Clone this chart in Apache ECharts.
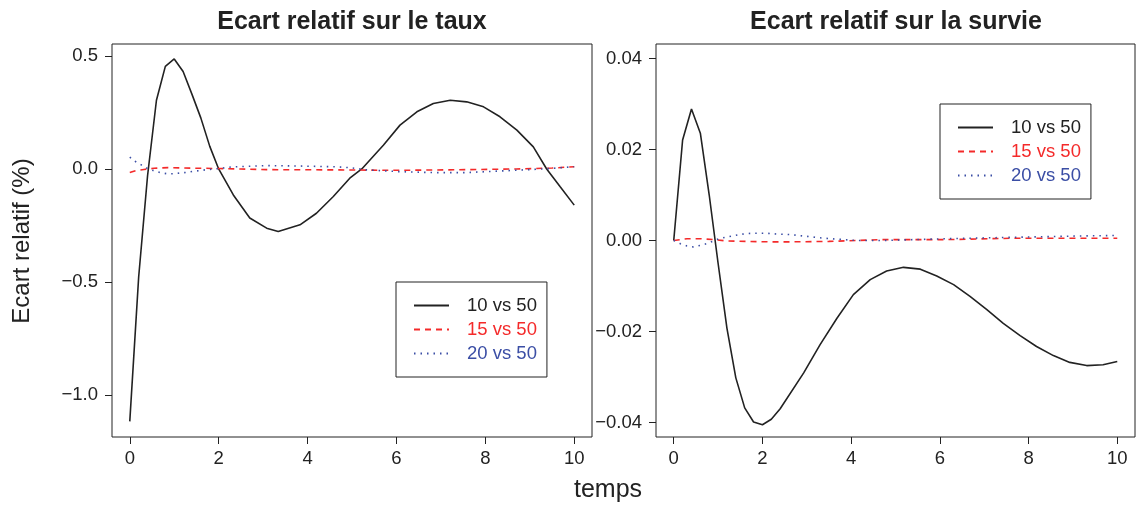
<!DOCTYPE html>
<html>
<head>
<meta charset="utf-8">
<script src="https://cdn.jsdelivr.net/npm/echarts@6/dist/echarts.min.js"></script>
<style>
  html, body { margin: 0; background: #fff; }
  #chart { width: 1139px; height: 506px; }
</style>
</head>
<body>
<div id="chart"></div>
<script>
// ticks
const xTicks = [0, 2, 4, 6, 8, 10];
const tauTicks = [-1, -0.5, 0, 0.5];
const survTicks = [-0.04, -0.02, 0, 0.02, 0.04];
const seriesNames = ['10 vs 50', '15 vs 50', '20 vs 50'];

// left panel: relative gap on the rate
const tau10X = [0, 0.2, 0.4, 0.6, 0.8, 1.0, 1.2, 1.4, 1.6, 1.8, 2.0, 2.33, 2.7, 3.08, 3.34, 3.83, 4.2, 4.58, 4.95, 5.22, 5.71, 6.08, 6.46, 6.83, 7.21, 7.58, 7.96, 8.33, 8.71, 9.08, 9.38, 9.68, 10];
const tau10Y = [-1.117, -0.478, -0.03, 0.304, 0.454, 0.487, 0.431, 0.33, 0.225, 0.10, 0.0, -0.115, -0.217, -0.262, -0.277, -0.247, -0.196, -0.122, -0.041, 0.0, 0.106, 0.194, 0.253, 0.29, 0.304, 0.297, 0.275, 0.231, 0.172, 0.098, 0.0, -0.078, -0.16];
const tau15X = [0, 0.14, 0.32, 0.55, 0.86, 1.24, 1.69, 2.5, 3.08, 4.58, 6.08, 7.58, 8.7, 9.5, 10];
const tau15Y = [-0.016, -0.007, -0.002, 0.003, 0.006, 0.004, 0.003, 0.0, -0.003, -0.004, -0.006, -0.003, 0.0, 0.004, 0.01];
const tau20X = [0, 0.12, 0.25, 0.38, 0.53, 0.68, 0.83, 0.98, 1.13, 1.28, 1.43, 1.58, 1.73, 2.0, 2.3, 3.08, 3.83, 4.58, 4.95, 5.33, 6.08, 6.83, 7.58, 8.33, 9.08, 9.46, 10];
const tau20Y = [0.052, 0.034, 0.019, 0.004, -0.007, -0.016, -0.021, -0.021, -0.018, -0.015, -0.010, -0.007, -0.003, 0.002, 0.009, 0.015, 0.013, 0.010, 0.006, -0.004, -0.012, -0.016, -0.016, -0.009, -0.002, 0.002, 0.01];

// right panel: relative gap on survival
const surv10X = [0, 0.2, 0.4, 0.6, 0.8, 1.0, 1.2, 1.4, 1.6, 1.8, 2.0, 2.2, 2.4, 2.93, 3.30, 3.68, 4.05, 4.43, 4.8, 5.18, 5.56, 5.93, 6.31, 6.68, 7.06, 7.43, 7.81, 8.18, 8.56, 8.93, 9.31, 9.68, 10];
const surv10Y = [0, 0.0221, 0.0289, 0.0236, 0.0100, -0.005, -0.0193, -0.0302, -0.0368, -0.0399, -0.0405, -0.0393, -0.0370, -0.0291, -0.0229, -0.0171, -0.0119, -0.0086, -0.0067, -0.0059, -0.0063, -0.0078, -0.0097, -0.0123, -0.0152, -0.0182, -0.0209, -0.0233, -0.0253, -0.0268, -0.0275, -0.0273, -0.0266];
const surv15X = [0, 0.3, 0.6, 0.9, 1.2, 1.65, 2.17, 2.62, 3.5, 4.13, 4.65, 6.16, 7.66, 10];
const surv15Y = [0, 0.0004, 0.0004, 0.0002, -0.0001, -0.0002, -0.0003, -0.0003, -0.0002, 0, 0.0002, 0.0002, 0.0005, 0.0005];
const surv20X = [0, 0.15, 0.3, 0.44, 0.59, 0.74, 0.87, 1.02, 1.17, 1.32, 1.47, 1.62, 1.77, 2.07, 2.37, 2.63, 3.38, 3.83, 4.13, 4.73, 6.16, 7.66, 9.16, 10];
const surv20Y = [0, -0.0007, -0.0012, -0.0014, -0.0011, -0.0007, -0.0002, 0.0004, 0.0007, 0.001, 0.0013, 0.0015, 0.0016, 0.0016, 0.0014, 0.0013, 0.0005, 0.0002, 0, 0, 0.0004, 0.0007, 0.001, 0.0011];

const FONT = '"Liberation Sans", Arial, sans-serif';
const INK = '#222';
const RED = '#f42a2a';
const BLUE = '#3b4ea5';

const pairs = (xs, ys) => xs.map((x, i) => [x, ys[i]]);
const minus = (s) => s.replace('-', '\u2212');

const lineStyles = [
  { color: INK, width: 1.6, type: 'solid' },
  { color: RED, width: 1.6, type: [6, 5] },
  { color: BLUE, width: 1.6, type: [1.5, 5] }
];

function makeSeries(name, data, idx, style) {
  return {
    type: 'line', name, data, xAxisIndex: idx, yAxisIndex: idx,
    symbol: 'none', silent: true, lineStyle: style,
    itemStyle: { color: style.color }
  };
}

function makeXAxis(idx) {
  return {
    type: 'value', gridIndex: idx, min: -0.4, max: 10.4,
    splitLine: { show: false }, axisLine: { show: false, onZero: false },
    axisTick: { show: true, length: 7, customValues: xTicks, lineStyle: { color: INK } },
    axisLabel: { customValues: xTicks, color: INK, fontSize: 18.5, fontFamily: FONT, margin: 12 }
  };
}

function makeYAxis(idx, min, max, ticks, digits) {
  return {
    type: 'value', gridIndex: idx, min, max,
    splitLine: { show: false }, axisLine: { show: false, onZero: false },
    axisTick: { show: true, length: 7, customValues: ticks, lineStyle: { color: INK } },
    axisLabel: {
      customValues: ticks, color: INK, fontSize: 18.5, fontFamily: FONT, margin: 14,
      formatter: (v) => minus(Number(v).toFixed(digits))
    }
  };
}

function makeLegend(left, top) {
  return {
    left, top, orient: 'vertical', selectedMode: false,
    itemWidth: 35, itemHeight: 18, itemGap: 5,
    padding: [14, 10, 14, 17],
    borderColor: INK, borderWidth: 1,
    itemStyle: { opacity: 0 },
    textStyle: { fontSize: 18.5, fontFamily: FONT, padding: [0, 0, 0, 13] },
    data: [
      { name: seriesNames[0], textStyle: { color: INK } },
      { name: seriesNames[1], textStyle: { color: RED } },
      { name: seriesNames[2], textStyle: { color: BLUE } }
    ]
  };
}

const textEl = (text, x, y, font, rotation) => ({
  type: 'text', x, y, rotation: rotation || 0,
  style: {
    text, font, fill: INK,
    align: 'center', verticalAlign: 'middle',
    textAlign: 'center', textVerticalAlign: 'middle'
  }
});

const chart = echarts.init(document.getElementById('chart'));
chart.setOption({
  animation: false,
  backgroundColor: '#fff',
  grid: [
    { left: 112, top: 44, width: 480, height: 393, show: true, borderColor: INK, borderWidth: 1 },
    { left: 656, top: 44, width: 479, height: 393, show: true, borderColor: INK, borderWidth: 1 }
  ],
  xAxis: [makeXAxis(0), makeXAxis(1)],
  yAxis: [
    makeYAxis(0, -1.186, 0.553, tauTicks, 1),
    makeYAxis(1, -0.0432, 0.0432, survTicks, 2)
  ],
  legend: [makeLegend(396, 282), makeLegend(940, 104)],
  graphic: [
    textEl('Ecart relatif sur le taux', 352, 22, 'bold 25px ' + FONT),
    textEl('Ecart relatif sur la survie', 896, 22, 'bold 25px ' + FONT),
    textEl('Ecart relatif (%)', 22, 241, '24px ' + FONT, Math.PI / 2),
    textEl('temps', 608, 490, '25px ' + FONT)
  ],
  series: [
    makeSeries(seriesNames[0], pairs(tau10X, tau10Y), 0, lineStyles[0]),
    makeSeries(seriesNames[1], pairs(tau15X, tau15Y), 0, lineStyles[1]),
    makeSeries(seriesNames[2], pairs(tau20X, tau20Y), 0, lineStyles[2]),
    makeSeries(seriesNames[0], pairs(surv10X, surv10Y), 1, lineStyles[0]),
    makeSeries(seriesNames[1], pairs(surv15X, surv15Y), 1, lineStyles[1]),
    makeSeries(seriesNames[2], pairs(surv20X, surv20Y), 1, lineStyles[2])
  ]
});
</script>
</body>
</html>
